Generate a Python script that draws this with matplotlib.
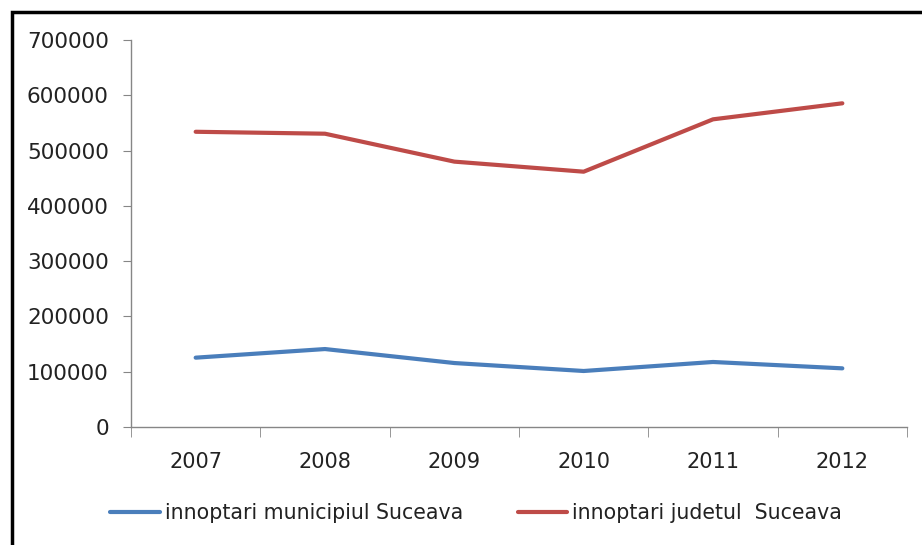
import numpy as np
import matplotlib.pyplot as plt
from matplotlib.patches import Rectangle

years = ['2007', '2008', '2009', '2010', '2011', '2012']
municipiu = [125400, 141000, 115700, 101300, 117600, 106100]
judet = [534000, 530500, 480000, 461800, 556500, 585500]

blue = '#4A7EBB'
red = '#BE4B48'
grey = '#868686'

fig = plt.figure(figsize=(9.22, 5.45), dpi=100)
ax = fig.add_axes([131/922, 1-427/545, (907-131)/922, (427-40)/545])

x = np.arange(len(years))
ax.plot(x, municipiu, color=blue, lw=3, label='innoptari municipiul Suceava', solid_capstyle='round')
ax.plot(x, judet, color=red, lw=3, label='innoptari judetul  Suceava', solid_capstyle='round')

ax.set_xlim(-0.5, len(years) - 0.5)
ax.set_ylim(0, 700000)
ax.set_yticks(np.arange(0, 700001, 100000))
ax.set_yticklabels([str(v) for v in range(0, 700001, 100000)])
ax.set_xticks(x)
ax.set_xticklabels(years)
ax.set_xticks(np.arange(-0.5, len(years)), minor=True)

for s in ['top', 'right']:
    ax.spines[s].set_visible(False)
for s in ['left', 'bottom']:
    ax.spines[s].set_color(grey)
    ax.spines[s].set_linewidth(1)

ax.tick_params(axis='y', direction='out', length=6, color=grey, labelsize=15.5, pad=10, labelcolor='#222222')
ax.tick_params(axis='x', which='major', length=0, labelsize=15, pad=18, labelcolor='#222222')
ax.tick_params(axis='x', which='minor', direction='out', length=7, color=grey)

leg = fig.legend(loc='center', bbox_to_anchor=(0.5165, 1-513/545), ncol=2, frameon=False,
                 fontsize=14.8, handlelength=2.4, handletextpad=0.25, columnspacing=2.65)
for t in leg.get_texts():
    t.set_color('#222222')

# outer chart frame (cut off at right and bottom)
fig.patches.append(Rectangle((11.5/922, -0.1), 1.2, 1.1 - 11.5/545, transform=fig.transFigure,
                             fill=False, edgecolor='black', lw=2.5))

fig.savefig('out.png', dpi=100)
